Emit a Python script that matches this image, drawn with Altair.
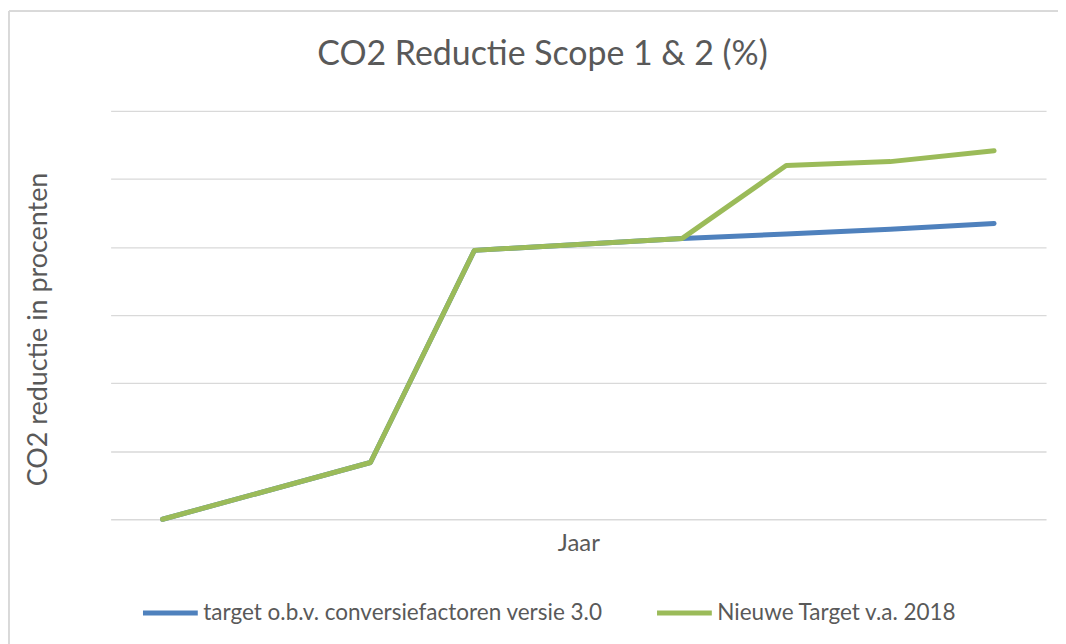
import altair as alt
import pandas as pd

# data (category index on the hidden "Jaar" axis; two categories have no values)
x_index = [0, 2, 3, 5, 6, 7, 8]
series_names = ["target o.b.v. conversiefactoren versie 3.0", "Nieuwe Target v.a. 2018"]
blue_vals = [0.0, 4.17, 19.75, 20.63, 20.95, 21.3, 21.73]
green_vals = [0.0, 4.17, 19.75, 20.63, 25.98, 26.27, 27.07]
y_grid = [0, 5, 10, 15, 20, 25, 30]
colors = ["#4f81bd", "#9bbb59"]

rows = []
for i, v in zip(x_index, blue_vals):
    rows.append({"idx": i, "val": v, "serie": series_names[0], "order": 0})
for i, v in zip(x_index, green_vals):
    rows.append({"idx": i, "val": v, "serie": series_names[1], "order": 1})
df = pd.DataFrame(rows)

FONT = "Lato"
TXT = "#595959"
W, H = 939, 410

base = alt.Chart(df)

lines = base.mark_line(strokeWidth=5, strokeCap="round", strokeJoin="round").encode(
    x=alt.X("idx:Q", scale=alt.Scale(domain=[-0.5, 8.5], nice=False, zero=False),
            axis=alt.Axis(title="Jaar", labels=False, ticks=False, domain=False, grid=False,
                          titleFont=FONT, titleFontSize=24, titleFontWeight="normal",
                          titleColor=TXT, titlePadding=12)),
    y=alt.Y("val:Q", scale=alt.Scale(domain=[0, 30], nice=False),
            axis=alt.Axis(title="CO2 reductie in procenten", values=y_grid, labels=False,
                          ticks=False, domain=False, grid=True, gridColor="#d9d9d9",
                          gridWidth=1.3,
                          titleFont=FONT, titleFontSize=27, titleFontWeight="normal",
                          titleColor=TXT, titlePadding=58, titleY=219)),
    color=alt.Color("serie:N", scale=alt.Scale(domain=series_names, range=colors),
                    sort=series_names,
                    legend=alt.Legend(title=None, orient="none", direction="horizontal",
                                      legendX=30, legendY=474,
                                      symbolType="stroke", symbolSize=3025,
                                      symbolStrokeWidth=5, labelFont=FONT, labelFontSize=22.6,
                                      labelColor=TXT, labelOffset=3, columnPadding=44,
                                      labelLimit=600)),
    order=alt.Order("order:Q"),
    detail="serie:N",
)

border_top = alt.Chart(df).mark_rule(color="#d9d9d9", strokeWidth=1.5).encode(
    x=alt.value(-102), x2=alt.value(W + 20), y=alt.value(-100)
)
border_left = alt.Chart(df).mark_rule(color="#d9d9d9", strokeWidth=1.5).encode(
    x=alt.value(-102), y=alt.value(-100), y2=alt.value(H + 130)
)

chart = alt.layer(border_top, border_left, lines).properties(
    width=W, height=H,
    title=alt.TitleParams("CO2 Reductie Scope 1 & 2 (%)", font=FONT, fontSize=34,
                          fontWeight="normal", color=TXT, anchor="middle", dx=-36,
                          offset=-62),
    autosize=alt.AutoSizeParams(type="none"),
    padding={"left": 103, "top": 102, "right": 12, "bottom": 124},
).configure(background="white").configure_view(stroke=None)

chart.save("out.html", embed_options={"renderer": "svg", "actions": False})
